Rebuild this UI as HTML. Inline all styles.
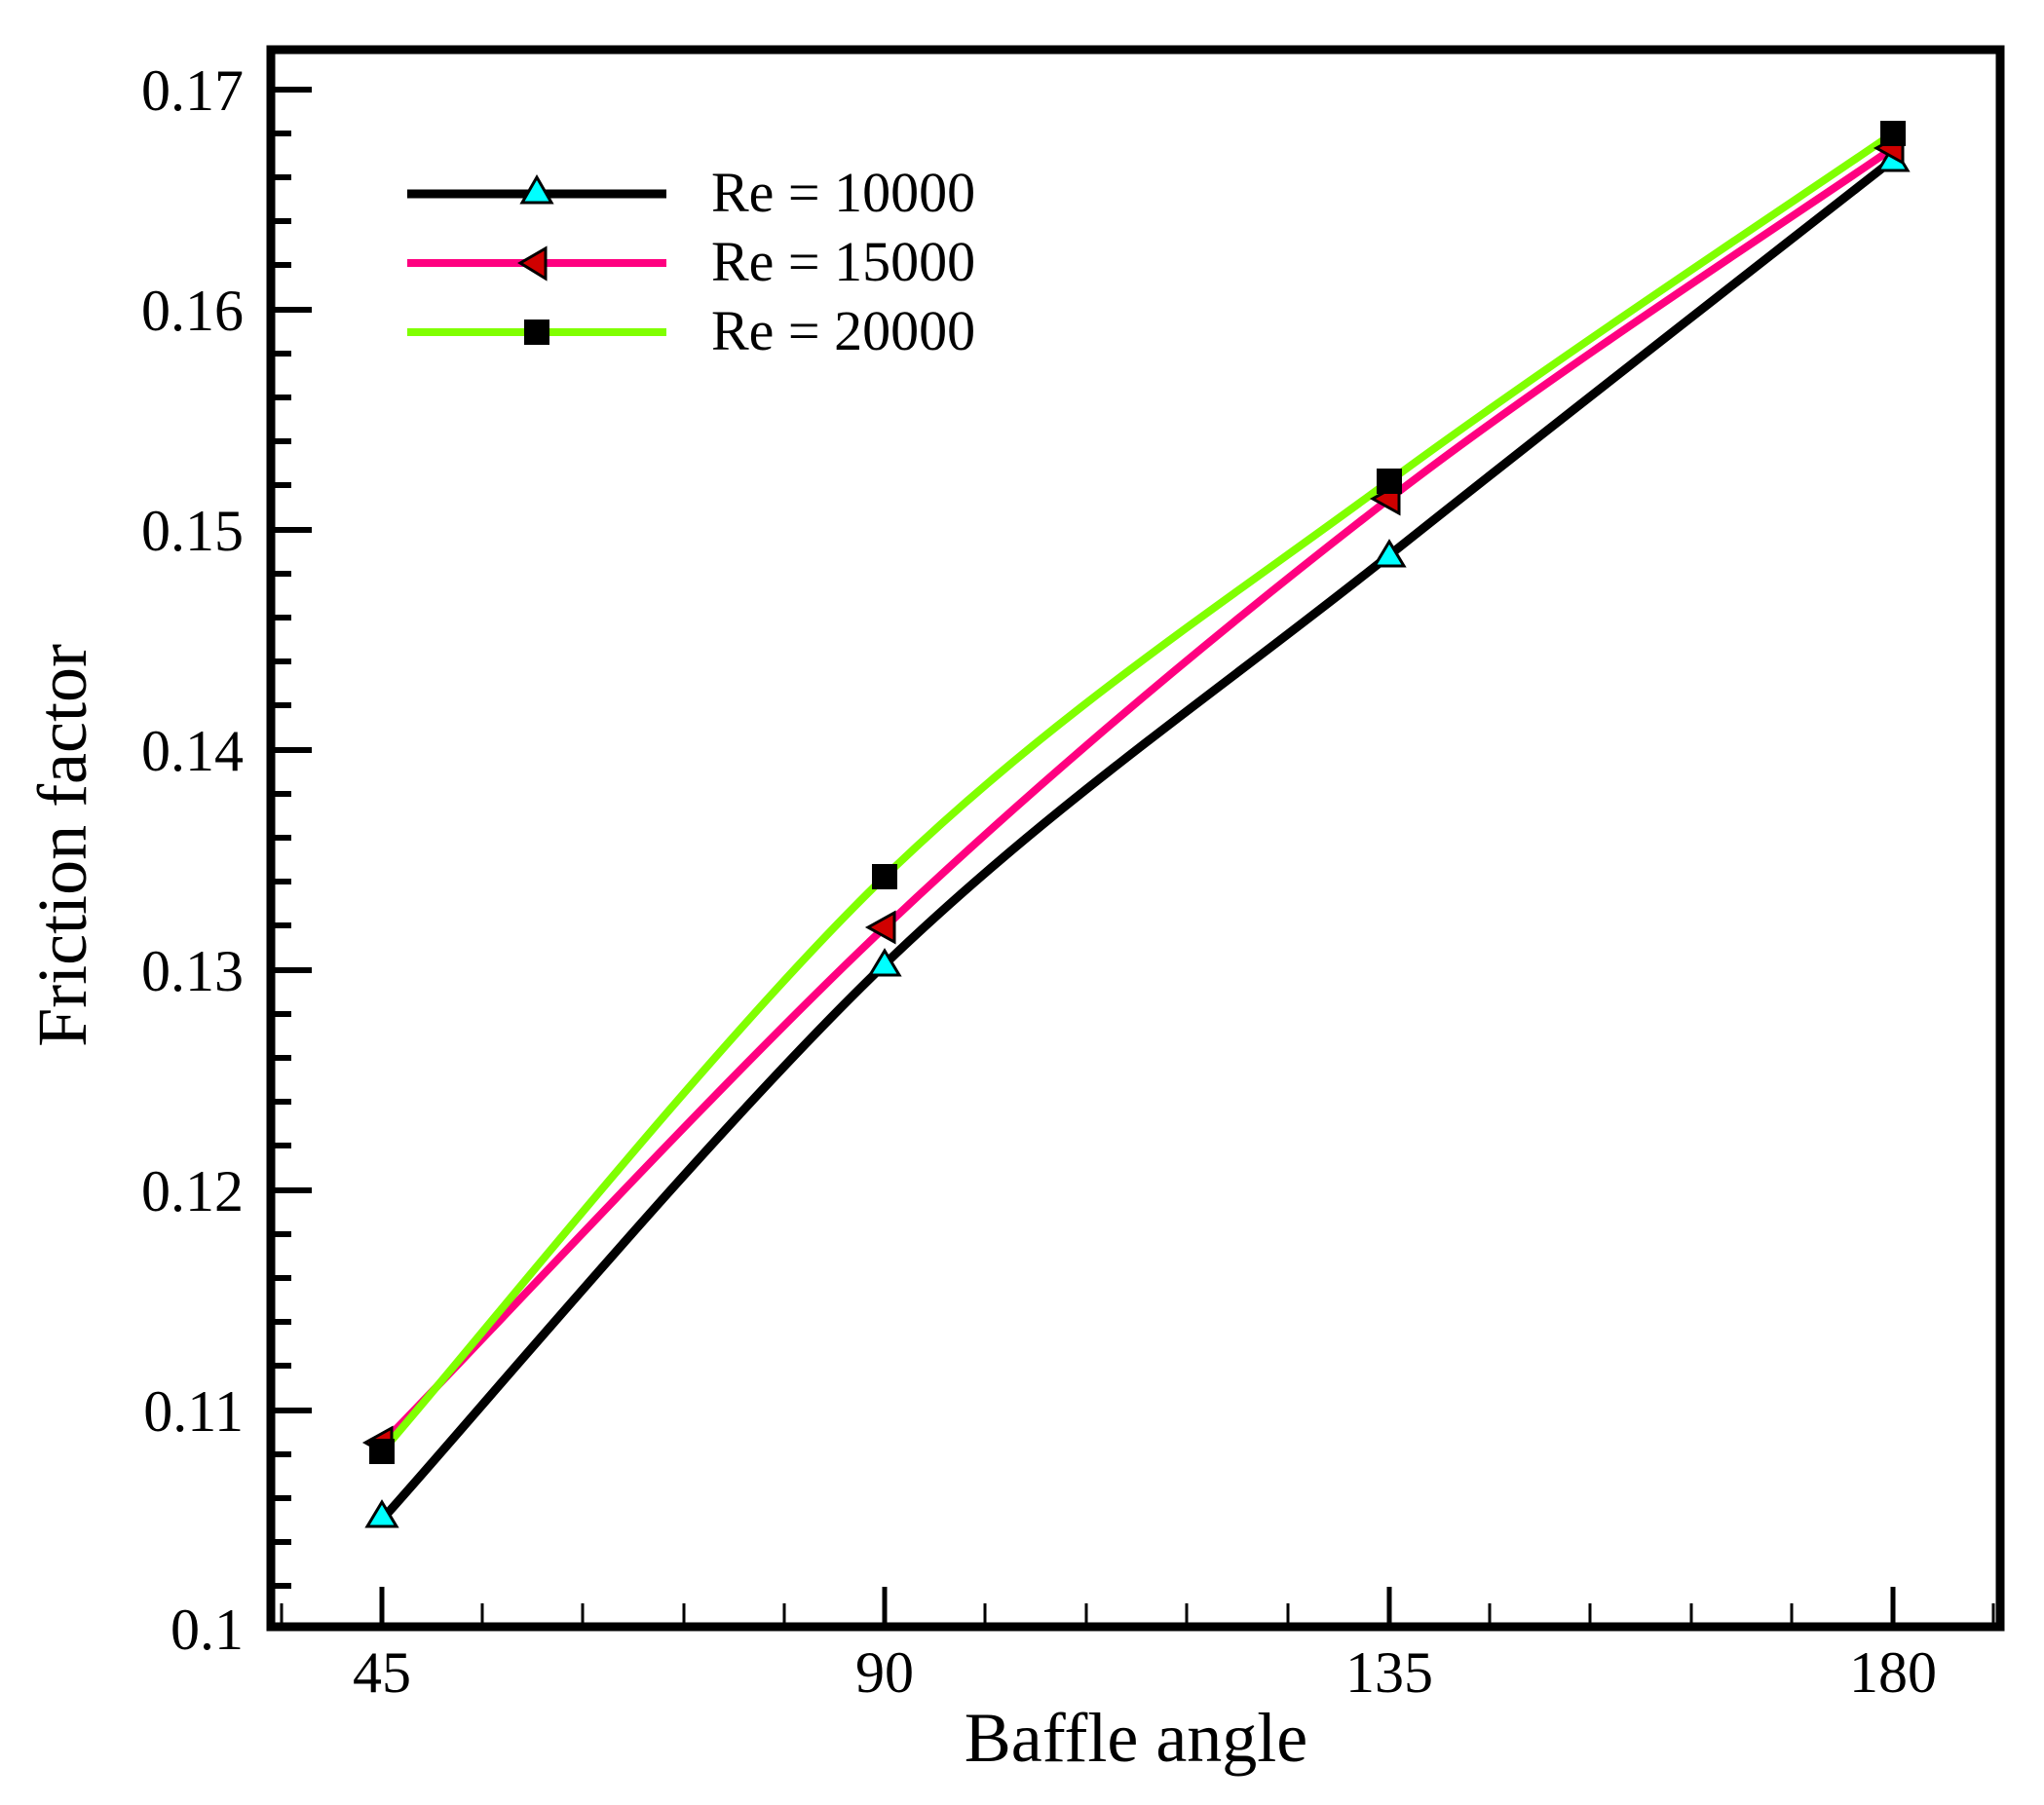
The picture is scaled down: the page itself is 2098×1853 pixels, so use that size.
<!DOCTYPE html>
<html><head><meta charset="utf-8"><style>
html,body{margin:0;padding:0;background:#fff}
svg{display:block}
text{font-family:"Liberation Serif","DejaVu Serif",serif;fill:#000}
</style></head><body>
<svg width="2098" height="1853" viewBox="0 0 2098 1853" xmlns="http://www.w3.org/2000/svg">
<!-- frame -->
<rect x="278" y="51" width="1775" height="1619" fill="none" stroke="#000" stroke-width="9"/>
<!-- y ticks -->
<g stroke="#000" stroke-width="6">
<path d="M278 92h42M278 318h42M278 544h42M278 770h42M278 996h42M278 1222h42M278 1448h42"/>
<path d="M278 137h21M278 182h21M278 227h21M278 272h21 M278 363h21M278 408h21M278 453h21M278 498h21 M278 589h21M278 634h21M278 679h21M278 724h21 M278 815h21M278 860h21M278 905h21M278 950h21 M278 1041h21M278 1086h21M278 1131h21M278 1176h21 M278 1267h21M278 1312h21M278 1357h21M278 1402h21 M278 1493h21M278 1538h21M278 1583h21M278 1628h21"/>
</g>
<!-- x ticks -->
<g stroke="#000" stroke-width="5">
<path d="M392 1670v-41M908 1670v-41M1426 1670v-41M1943 1670v-41"/>
<path d="M289 1670v-24M495 1670v-24M598 1670v-24M702 1670v-24M805 1670v-24M1011 1670v-24M1115 1670v-24M1218 1670v-24M1322 1670v-24M1529 1670v-24M1632 1670v-24M1736 1670v-24M1839 1670v-24M2046 1670v-24" stroke-width="3"/>
</g>
<!-- y labels -->
<g font-size="60" text-anchor="end">
<text x="250" y="113">0.17</text>
<text x="250" y="339">0.16</text>
<text x="250" y="565">0.15</text>
<text x="250" y="791">0.14</text>
<text x="250" y="1017">0.13</text>
<text x="250" y="1243">0.12</text>
<text x="250" y="1469">0.11</text>
<text x="250" y="1693">0.1</text>
</g>
<g font-size="60" text-anchor="middle">
<text x="392" y="1737">45</text>
<text x="908" y="1737">90</text>
<text x="1426" y="1737">135</text>
<text x="1943" y="1737">180</text>
</g>
<text x="1166" y="1808" font-size="72" text-anchor="middle">Baffle angle</text>
<text transform="translate(88,868) rotate(-90)" font-size="72" text-anchor="middle">Friction factor</text>
<!-- curves -->
<g fill="none" stroke-width="8" stroke-linejoin="round">
<path stroke="#000" stroke-width="9" d="M392 1560 C478 1465 735.7 1155.7 908 990 C1080.3 824.3 1253.5 707.7 1426 570 C1598.5 432.3 1856.8 231.7 1943 164"/>
<path stroke="#ff0080" d="M392 1482 C478 1395 735.7 1114.8 908 952 C1080.3 789.2 1253.5 645.3 1426 512 C1598.5 378.7 1856.8 212 1943 152"/>
<path stroke="#80ff00" d="M392 1490 C478 1392 735.7 1066.7 908 900 C1080.3 733.3 1253.5 621.2 1426 494 C1598.5 366.8 1856.8 196.5 1943 137"/>
</g>
<!-- markers -->
<g stroke="#000" stroke-width="3">
<path fill="#00ffff" d="M392 1542 L407 1567 L377 1567 Z"/>
<path fill="#00ffff" d="M908 976 L923 1001 L893 1001 Z"/>
<path fill="#00ffff" d="M1426 556 L1441 581 L1411 581 Z"/>
<path fill="#00ffff" d="M1943 150 L1958 175 L1928 175 Z"/>
<path fill="#d00000" d="M375 1481 L402 1466 L402 1496 Z"/>
<path fill="#d00000" d="M891 952 L918 937 L918 967 Z"/>
<path fill="#d00000" d="M1409 512 L1436 497 L1436 527 Z"/>
<path fill="#d00000" d="M1926 152 L1953 137 L1953 167 Z"/>
</g>
<g fill="#000">
<rect x="379" y="1477" width="26" height="26"/>
<rect x="895" y="887" width="26" height="26"/>
<rect x="1413" y="481" width="26" height="26"/>
<rect x="1930" y="124" width="26" height="26"/>
</g>
<!-- legend -->
<g stroke-width="8">
<line x1="418" y1="199" x2="684" y2="199" stroke="#000" stroke-width="9"/>
<line x1="418" y1="270" x2="684" y2="270" stroke="#ff0080"/>
<line x1="418" y1="341" x2="684" y2="341" stroke="#80ff00"/>
</g>
<path d="M551 182 L566 208 L536 208 Z" fill="#00ffff" stroke="#000" stroke-width="3"/>
<path d="M534 270 L560 255 L560 286 Z" fill="#d00000" stroke="#000" stroke-width="3"/>
<rect x="538" y="328" width="26" height="26" fill="#000"/>
<g font-size="58">
<text x="730" y="217">Re = 10000</text>
<text x="730" y="288">Re = 15000</text>
<text x="730" y="359">Re = 20000</text>
</g>
</svg>
</body></html>
